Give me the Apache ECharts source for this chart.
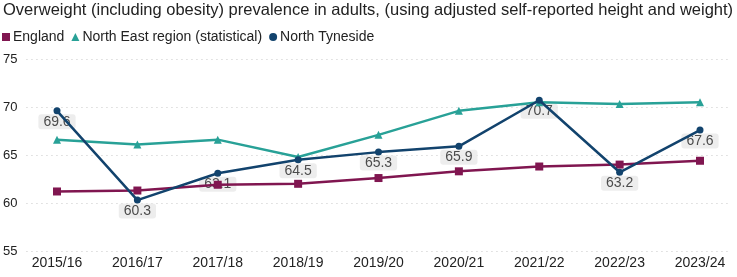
<!DOCTYPE html>
<html>
<head>
<meta charset="utf-8">
<script src="https://cdn.jsdelivr.net/npm/echarts@6/dist/echarts.min.js"></script>
<style>
html,body{margin:0;padding:0;background:#fff;}
#chart{width:737px;height:277px;}
</style>
</head>
<body>
<div id="chart"></div>
<script>
var titleText = 'Overweight (including obesity) prevalence in adults, (using adjusted self-reported height and weight)';
var categories = ['2015/16','2016/17','2017/18','2018/19','2019/20','2020/21','2021/22','2022/23','2023/24'];
var england = [61.2, 61.3, 61.9, 62.0, 62.6, 63.3, 63.8, 64.0, 64.4];
var northEast = [66.6, 66.1, 66.6, 64.8, 67.1, 69.6, 70.5, 70.3, 70.5];
var northTyneside = [69.6, 60.3, 63.1, 64.5, 65.3, 65.9, 70.7, 63.2, 67.6];
var seriesNames = ['England', 'North East region (statistical)', 'North Tyneside'];
var yMin = 55, yMax = 75, yInterval = 5;

var FONT = 'Liberation Sans, Arial, sans-serif';
var chart = echarts.init(document.getElementById('chart'), null, {renderer: 'canvas'});
var gridTop = 59, gridBottom = 26;
chart.setOption({
  animation: false,
  backgroundColor: '#fff',
  title: {
    text: titleText, left: 0, top: 2, padding: [0,0,0,3],
    textStyle: {fontFamily: FONT, fontSize: 16.5, fontWeight: 'normal', color: '#222'}
  },
  legend: {
    left: 0, top: 30, padding: [0,0,0,2], itemWidth: 8, itemHeight: 8, itemGap: 7,
    textStyle: {fontFamily: FONT, fontSize: 14, color: '#222', padding: [0,0,0,-2]},
    data: [
      {name: seriesNames[0], icon: 'rect'},
      {name: seriesNames[1], icon: 'triangle'},
      {name: seriesNames[2], icon: 'circle'}
    ]
  },
  grid: [
    {left: 25, right: 7, top: gridTop, bottom: gridBottom},
    {left: 57, right: 37, top: gridTop, bottom: gridBottom}
  ],
  xAxis: [
    {gridIndex: 0, type: 'category', data: categories, show: false},
    {gridIndex: 1, type: 'category', data: categories, boundaryGap: false,
     axisLine: {show: false}, axisTick: {show: false},
     axisLabel: {fontFamily: FONT, fontSize: 14, color: '#222', margin: 5, interval: 0}}
  ],
  yAxis: [
    {gridIndex: 0, type: 'value', min: yMin, max: yMax, interval: yInterval,
     axisLine: {show: false}, axisTick: {show: false},
     axisLabel: {fontFamily: FONT, fontSize: 13, color: '#222', margin: 9},
     splitLine: {show: true, lineStyle: {color: '#c8c8c8', type: [1, 4], width: 1}}},
    {gridIndex: 1, type: 'value', min: yMin, max: yMax, interval: yInterval, show: false,
     splitLine: {show: false}}
  ],
  series: [
    {
      name: 'labels', type: 'scatter', xAxisIndex: 1, yAxisIndex: 1, z: 1, silent: true,
      symbolSize: 1, itemStyle: {color: 'rgba(0,0,0,0)'},
      data: northTyneside,
      label: {
        show: true, position: 'inside', offset: [0, 11],
        fontFamily: FONT, fontSize: 14, color: '#222',
        backgroundColor: '#e8e8e8', borderRadius: 3, padding: [1, 5, 0, 5],
        formatter: function (p) { return p.value.toFixed(1); }
      }
    },
    {
      name: seriesNames[0], type: 'line', xAxisIndex: 1, yAxisIndex: 1, z: 3,
      data: england, symbol: 'rect', symbolSize: 8, showAllSymbol: true,
      lineStyle: {color: '#801650', width: 2.5}, itemStyle: {color: '#801650'}
    },
    {
      name: seriesNames[1], type: 'line', xAxisIndex: 1, yAxisIndex: 1, z: 3,
      data: northEast, symbol: 'triangle', symbolSize: 8, showAllSymbol: true,
      lineStyle: {color: '#28A197', width: 2.5}, itemStyle: {color: '#28A197'}
    },
    {
      name: seriesNames[2], type: 'line', xAxisIndex: 1, yAxisIndex: 1, z: 4,
      data: northTyneside, symbol: 'circle', symbolSize: 7, showAllSymbol: true,
      lineStyle: {color: '#12436D', width: 2.5}, itemStyle: {color: '#12436D'}
    }
  ]
});
</script>
</body>
</html>
